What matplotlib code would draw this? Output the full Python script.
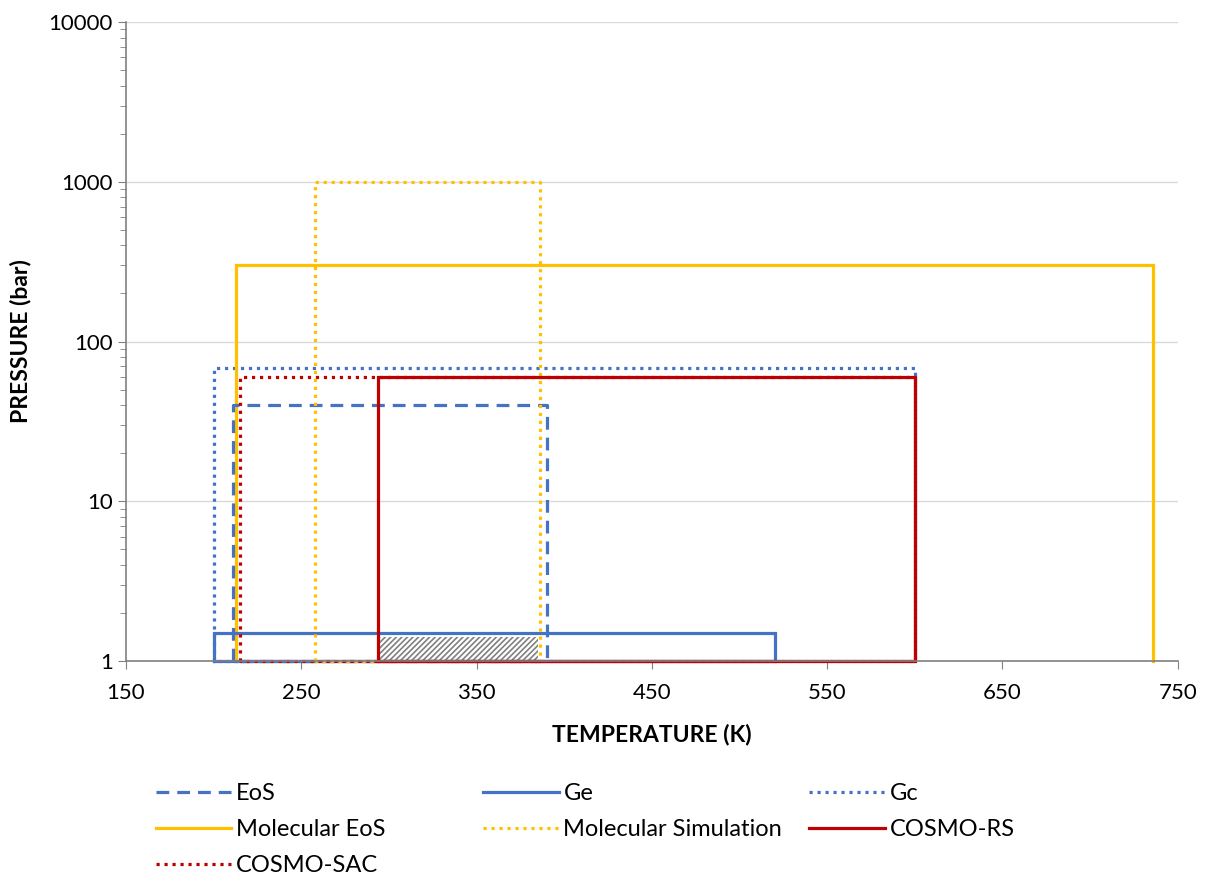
import matplotlib.pyplot as plt

plt.rcParams['font.family'] = ['Lato', 'DejaVu Sans']
plt.rcParams['hatch.linewidth'] = 1.2

# ranges of application: (T min, T max, P max), P min is 1 bar
labels = ["EoS", "Ge", "Gc", "Molecular EoS", "Molecular Simulation", "COSMO-RS", "COSMO-SAC"]
t_min = [211, 200, 200, 213, 258, 294, 215]
t_max = [390, 520, 600, 736, 386, 600, 600]
p_max = [40, 1.5, 68, 300, 1000, 60, 60]
p_min = 1

# overlap region (hatched)
hatch_t = [295, 385]
hatch_p = [1, 1.42]

blue = '#4472C4'
yellow = '#FFC000'
red = '#C00000'
dots = (0, (1, 1.5))
dash = (0, (4, 2.5))
styles = {
    "EoS": (blue, dash),
    "Ge": (blue, '-'),
    "Gc": (blue, dots),
    "Molecular EoS": (yellow, '-'),
    "Molecular Simulation": (yellow, dots),
    "COSMO-RS": (red, '-'),
    "COSMO-SAC": (red, dots),
}
draw_order = ["Gc", "Molecular EoS", "EoS", "Ge", "COSMO-SAC", "Molecular Simulation", "COSMO-RS"]

fig = plt.figure(figsize=(12.08, 8.81), dpi=100)
ax = fig.add_axes([0.1043, 0.2497, 0.8707, 0.7253])

lines = {}
for name in draw_order:
    i = labels.index(name)
    x0, x1, top = t_min[i], t_max[i], p_max[i]
    color, ls = styles[name]
    xs = [x0, x0, x1, x1, x0]
    ys = [p_min, top, top, p_min, p_min]
    if name == "Molecular EoS":
        # bottom edge sits under the axis line
        xs, ys = xs[:4], ys[:4]
    ln, = ax.plot(xs, ys, color=color, linestyle=ls, linewidth=2.3, label=name,
                  clip_on=False, solid_joinstyle='miter')
    lines[name] = ln

ax.fill_between(hatch_t, hatch_p[0], hatch_p[1], hatch='//////',
                facecolor='none', edgecolor='#808080', linewidth=0, zorder=1)

ax.set_yscale('log')
ax.set_xlim(150, 750)
ax.set_ylim(1, 10000)
ax.set_xticks([150, 250, 350, 450, 550, 650, 750])
ax.set_yticks([1, 10, 100, 1000, 10000])
ax.set_yticklabels(['1', '10', '100', '1000', '10000'])
ax.tick_params(axis='both', labelsize=16, color='#808080', length=6)
ax.tick_params(axis='x', pad=10)
ax.tick_params(axis='y', which='minor', color='#808080', length=4)
ax.grid(axis='y', which='major', color='#D9D9D9', linewidth=1)
ax.set_axisbelow(True)
for s in ['top', 'right']:
    ax.spines[s].set_visible(False)
for s in ['left', 'bottom']:
    ax.spines[s].set_color('#808080')
    ax.spines[s].set_linewidth(1.2)

ax.set_xlabel('TEMPERATURE (K)', fontsize=16.5, fontweight='bold', labelpad=15)
ax.set_ylabel('PRESSURE (bar)', fontsize=16.5, fontweight='bold', labelpad=12)

# legend in three fixed-width columns
columns = [["EoS", "Molecular EoS", "COSMO-SAC"],
           ["Ge", "Molecular Simulation"],
           ["Gc", "COSMO-RS"]]
col_x = [0.129, 0.400, 0.670]
for names, x in zip(columns, col_x):
    leg = fig.legend([lines[n] for n in names], names, loc='upper left',
                     bbox_to_anchor=(x, 0.111), frameon=False, fontsize=17,
                     handlelength=3.2, labelspacing=0.63, handletextpad=0.2,
                     borderaxespad=0, borderpad=0)

fig.savefig('out.png', dpi=100)
